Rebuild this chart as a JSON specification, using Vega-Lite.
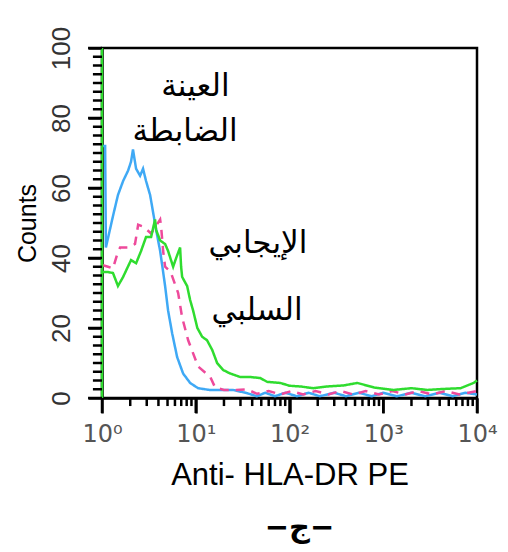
{
  "$schema": "https://vega.github.io/schema/vega-lite/v6.json",
  "width": 375,
  "height": 350,
  "autosize": "none",
  "padding": {"left": 102, "top": 48, "right": 31, "bottom": 154},
  "config": {"view": {"stroke": "black", "strokeWidth": 2.5}},
  "title": {"text": "−ج−", "orient": "bottom", "font": "DejaVu Sans", "fontSize": 29, "fontWeight": "bold", "color": "black", "offset": 24, "dx": 10},
  "datasets": {
    "curves": [
      {"s": "blue", "i": 0, "x": 1.0, "y": 72}, {"s": "blue", "i": 1, "x": 1.08, "y": 72}, {"s": "blue", "i": 2, "x": 1.1, "y": 43}, {"s": "blue", "i": 3, "x": 1.31, "y": 52}, {"s": "blue", "i": 4, "x": 1.48, "y": 58}, {"s": "blue", "i": 5, "x": 1.68, "y": 62}, {"s": "blue", "i": 6, "x": 1.9, "y": 65}, {"s": "blue", "i": 7, "x": 2.04, "y": 67.5}, {"s": "blue", "i": 8, "x": 2.14, "y": 71}, {"s": "blue", "i": 9, "x": 2.31, "y": 65.5}, {"s": "blue", "i": 10, "x": 2.55, "y": 63.5}, {"s": "blue", "i": 11, "x": 2.74, "y": 65.5}, {"s": "blue", "i": 12, "x": 2.95, "y": 62}, {"s": "blue", "i": 13, "x": 3.26, "y": 58}, {"s": "blue", "i": 14, "x": 3.51, "y": 53}, {"s": "blue", "i": 15, "x": 3.78, "y": 48}, {"s": "blue", "i": 16, "x": 4.17, "y": 42}, {"s": "blue", "i": 17, "x": 4.49, "y": 36}, {"s": "blue", "i": 18, "x": 4.71, "y": 32}, {"s": "blue", "i": 19, "x": 5.07, "y": 25}, {"s": "blue", "i": 20, "x": 5.6, "y": 18.5}, {"s": "blue", "i": 21, "x": 6.33, "y": 11.7}, {"s": "blue", "i": 22, "x": 7.33, "y": 7}, {"s": "blue", "i": 23, "x": 8.71, "y": 4.3}, {"s": "blue", "i": 24, "x": 10.6, "y": 2.8}, {"s": "blue", "i": 25, "x": 14, "y": 2.3}, {"s": "blue", "i": 26, "x": 19, "y": 2.3}, {"s": "blue", "i": 27, "x": 25, "y": 2.3}, {"s": "blue", "i": 28, "x": 35, "y": 1.4}, {"s": "blue", "i": 29, "x": 45, "y": 0.5}, {"s": "blue", "i": 30, "x": 55, "y": 1.5}, {"s": "blue", "i": 31, "x": 70, "y": 0.5}, {"s": "blue", "i": 32, "x": 90, "y": 1.5}, {"s": "blue", "i": 33, "x": 120, "y": 0.5}, {"s": "blue", "i": 34, "x": 160, "y": 1.5}, {"s": "blue", "i": 35, "x": 210, "y": 0.5}, {"s": "blue", "i": 36, "x": 300, "y": 1.5}, {"s": "blue", "i": 37, "x": 400, "y": 0.5}, {"s": "blue", "i": 38, "x": 550, "y": 1.5}, {"s": "blue", "i": 39, "x": 750, "y": 0.5}, {"s": "blue", "i": 40, "x": 1000, "y": 1.5}, {"s": "blue", "i": 41, "x": 1400, "y": 0.5}, {"s": "blue", "i": 42, "x": 2000, "y": 1.5}, {"s": "blue", "i": 43, "x": 2800, "y": 0.5}, {"s": "blue", "i": 44, "x": 4000, "y": 1.5}, {"s": "blue", "i": 45, "x": 5500, "y": 0.5}, {"s": "blue", "i": 46, "x": 7500, "y": 1.5}, {"s": "blue", "i": 47, "x": 10000, "y": 1},

      {"s": "pink", "i": 0, "x": 1.0, "y": 38}, {"s": "pink", "i": 1, "x": 1.16, "y": 37.5}, {"s": "pink", "i": 2, "x": 1.31, "y": 37}, {"s": "pink", "i": 3, "x": 1.45, "y": 41}, {"s": "pink", "i": 4, "x": 1.56, "y": 43}, {"s": "pink", "i": 5, "x": 1.9, "y": 43}, {"s": "pink", "i": 6, "x": 2.25, "y": 44}, {"s": "pink", "i": 7, "x": 2.43, "y": 49.5}, {"s": "pink", "i": 8, "x": 2.74, "y": 49}, {"s": "pink", "i": 9, "x": 3.34, "y": 47}, {"s": "pink", "i": 10, "x": 4.17, "y": 51}, {"s": "pink", "i": 11, "x": 4.27, "y": 49}, {"s": "pink", "i": 12, "x": 4.49, "y": 42}, {"s": "pink", "i": 13, "x": 4.71, "y": 37.5}, {"s": "pink", "i": 14, "x": 5.4, "y": 36}, {"s": "pink", "i": 15, "x": 6.49, "y": 30}, {"s": "pink", "i": 16, "x": 7.16, "y": 23}, {"s": "pink", "i": 17, "x": 8.3, "y": 16.5}, {"s": "pink", "i": 18, "x": 10.6, "y": 9}, {"s": "pink", "i": 19, "x": 14.3, "y": 6}, {"s": "pink", "i": 20, "x": 16.1, "y": 3}, {"s": "pink", "i": 21, "x": 20, "y": 2.3}, {"s": "pink", "i": 22, "x": 27, "y": 2.3}, {"s": "pink", "i": 23, "x": 35, "y": 2.5}, {"s": "pink", "i": 24, "x": 45, "y": 1.2}, {"s": "pink", "i": 25, "x": 60, "y": 2}, {"s": "pink", "i": 26, "x": 80, "y": 1}, {"s": "pink", "i": 27, "x": 105, "y": 2}, {"s": "pink", "i": 28, "x": 140, "y": 1}, {"s": "pink", "i": 29, "x": 190, "y": 2}, {"s": "pink", "i": 30, "x": 260, "y": 1}, {"s": "pink", "i": 31, "x": 350, "y": 2}, {"s": "pink", "i": 32, "x": 480, "y": 1}, {"s": "pink", "i": 33, "x": 650, "y": 2}, {"s": "pink", "i": 34, "x": 900, "y": 1}, {"s": "pink", "i": 35, "x": 1250, "y": 2}, {"s": "pink", "i": 36, "x": 1700, "y": 1}, {"s": "pink", "i": 37, "x": 2400, "y": 2}, {"s": "pink", "i": 38, "x": 3300, "y": 1}, {"s": "pink", "i": 39, "x": 4600, "y": 2}, {"s": "pink", "i": 40, "x": 6500, "y": 1}, {"s": "pink", "i": 41, "x": 10000, "y": 2},

      {"s": "green", "i": 0, "x": 1.0, "y": 0}, {"s": "green", "i": 1, "x": 1.0, "y": 100}, {"s": "green", "i": 2, "x": 1.0, "y": 36}, {"s": "green", "i": 3, "x": 1.08, "y": 36}, {"s": "green", "i": 4, "x": 1.16, "y": 36}, {"s": "green", "i": 5, "x": 1.31, "y": 35.7}, {"s": "green", "i": 6, "x": 1.48, "y": 32}, {"s": "green", "i": 7, "x": 1.68, "y": 34.6}, {"s": "green", "i": 8, "x": 2.04, "y": 39.4}, {"s": "green", "i": 9, "x": 2.31, "y": 38.5}, {"s": "green", "i": 10, "x": 2.61, "y": 42}, {"s": "green", "i": 11, "x": 2.95, "y": 46}, {"s": "green", "i": 12, "x": 3.34, "y": 46}, {"s": "green", "i": 13, "x": 3.68, "y": 51}, {"s": "green", "i": 14, "x": 3.78, "y": 48}, {"s": "green", "i": 15, "x": 4.17, "y": 45}, {"s": "green", "i": 16, "x": 4.71, "y": 44}, {"s": "green", "i": 17, "x": 5.07, "y": 42}, {"s": "green", "i": 18, "x": 5.74, "y": 37.5}, {"s": "green", "i": 19, "x": 6.18, "y": 40}, {"s": "green", "i": 20, "x": 6.81, "y": 43}, {"s": "green", "i": 21, "x": 6.98, "y": 37.5}, {"s": "green", "i": 22, "x": 7.16, "y": 34.6}, {"s": "green", "i": 23, "x": 8.09, "y": 32}, {"s": "green", "i": 24, "x": 8.71, "y": 28}, {"s": "green", "i": 25, "x": 9.37, "y": 25}, {"s": "green", "i": 26, "x": 10.4, "y": 20}, {"s": "green", "i": 27, "x": 11.7, "y": 17.5}, {"s": "green", "i": 28, "x": 13.2, "y": 16.5}, {"s": "green", "i": 29, "x": 15.0, "y": 13.7}, {"s": "green", "i": 30, "x": 16.9, "y": 10}, {"s": "green", "i": 31, "x": 19.6, "y": 8}, {"s": "green", "i": 32, "x": 23.3, "y": 7}, {"s": "green", "i": 33, "x": 29.8, "y": 6}, {"s": "green", "i": 34, "x": 38.1, "y": 6}, {"s": "green", "i": 35, "x": 48.8, "y": 5.7}, {"s": "green", "i": 36, "x": 57.9, "y": 4.6}, {"s": "green", "i": 37, "x": 79.8, "y": 4.3}, {"s": "green", "i": 38, "x": 100, "y": 3.5}, {"s": "green", "i": 39, "x": 130, "y": 3.3}, {"s": "green", "i": 40, "x": 180, "y": 2.8}, {"s": "green", "i": 41, "x": 254, "y": 3.3}, {"s": "green", "i": 42, "x": 380, "y": 3.6}, {"s": "green", "i": 43, "x": 530, "y": 4.3}, {"s": "green", "i": 44, "x": 800, "y": 3}, {"s": "green", "i": 45, "x": 1285, "y": 2.3}, {"s": "green", "i": 46, "x": 2000, "y": 2.8}, {"s": "green", "i": 47, "x": 2967, "y": 2.3}, {"s": "green", "i": 48, "x": 4500, "y": 2.6}, {"s": "green", "i": 49, "x": 6680, "y": 2.8}, {"s": "green", "i": 50, "x": 9200, "y": 4.3}, {"s": "green", "i": 51, "x": 10000, "y": 5}
    ],
    "labels": [
      {"t": "العينة", "x": 9.9, "y": 89},
      {"t": "الضابطة", "x": 7.7, "y": 76},
      {"t": "الإيجابي", "x": 46, "y": 44},
      {"t": "السلبي", "x": 45, "y": 25}
    ],
    "xticks": [
      {"v": 1, "k": "major"}, {"v": 2, "k": "minor"}, {"v": 3, "k": "minor"}, {"v": 4, "k": "minor"}, {"v": 5, "k": "minor"}, {"v": 6, "k": "minor"}, {"v": 7, "k": "minor"}, {"v": 8, "k": "minor"}, {"v": 9, "k": "minor"},
      {"v": 10, "k": "major"}, {"v": 20, "k": "minor"}, {"v": 30, "k": "minor"}, {"v": 40, "k": "minor"}, {"v": 50, "k": "minor"}, {"v": 60, "k": "minor"}, {"v": 70, "k": "minor"}, {"v": 80, "k": "minor"}, {"v": 90, "k": "minor"},
      {"v": 100, "k": "major"}, {"v": 200, "k": "minor"}, {"v": 300, "k": "minor"}, {"v": 400, "k": "minor"}, {"v": 500, "k": "minor"}, {"v": 600, "k": "minor"}, {"v": 700, "k": "minor"}, {"v": 800, "k": "minor"}, {"v": 900, "k": "minor"},
      {"v": 1000, "k": "major"}, {"v": 2000, "k": "minor"}, {"v": 3000, "k": "minor"}, {"v": 4000, "k": "minor"}, {"v": 5000, "k": "minor"}, {"v": 6000, "k": "minor"}, {"v": 7000, "k": "minor"}, {"v": 8000, "k": "minor"}, {"v": 9000, "k": "minor"},
      {"v": 10000, "k": "major"}
    ],
    "yticks": [
      {"v": 0, "k": "major"}, {"v": 2.5, "k": "minor"}, {"v": 5, "k": "minor"}, {"v": 7.5, "k": "minor"}, {"v": 10, "k": "minor"}, {"v": 12.5, "k": "minor"}, {"v": 15, "k": "minor"}, {"v": 17.5, "k": "minor"},
      {"v": 20, "k": "major"}, {"v": 22.5, "k": "minor"}, {"v": 25, "k": "minor"}, {"v": 27.5, "k": "minor"}, {"v": 30, "k": "minor"}, {"v": 32.5, "k": "minor"}, {"v": 35, "k": "minor"}, {"v": 37.5, "k": "minor"},
      {"v": 40, "k": "major"}, {"v": 42.5, "k": "minor"}, {"v": 45, "k": "minor"}, {"v": 47.5, "k": "minor"}, {"v": 50, "k": "minor"}, {"v": 52.5, "k": "minor"}, {"v": 55, "k": "minor"}, {"v": 57.5, "k": "minor"},
      {"v": 60, "k": "major"}, {"v": 62.5, "k": "minor"}, {"v": 65, "k": "minor"}, {"v": 67.5, "k": "minor"}, {"v": 70, "k": "minor"}, {"v": 72.5, "k": "minor"}, {"v": 75, "k": "minor"}, {"v": 77.5, "k": "minor"},
      {"v": 80, "k": "major"}, {"v": 82.5, "k": "minor"}, {"v": 85, "k": "minor"}, {"v": 87.5, "k": "minor"}, {"v": 90, "k": "minor"}, {"v": 92.5, "k": "minor"}, {"v": 95, "k": "minor"}, {"v": 97.5, "k": "minor"},
      {"v": 100, "k": "major"}
    ]
  },
  "layer": [
    {
      "data": {"name": "curves"},
      "mark": {"type": "line", "strokeWidth": 2.5},
      "encoding": {
        "x": {
          "field": "x", "type": "quantitative",
          "scale": {"type": "log", "domain": [1, 10000], "nice": false},
          "axis": {
            "title": "Anti- HLA-DR PE",
            "titleFont": "Liberation Sans", "titleFontSize": 31, "titleFontWeight": "normal", "titleColor": "black", "titlePadding": 14,
            "values": [1, 10, 100, 1000, 10000],
            "labelExpr": "datum.value == 1 ? '10⁰' : datum.value == 10 ? '10¹' : datum.value == 100 ? '10²' : datum.value == 1000 ? '10³' : '10⁴'",
            "labelFont": "DejaVu Sans", "labelFontSize": 24, "labelColor": "#555555", "labelPadding": 9,
            "labelOverlap": false, "labelFlush": false,
            "domainColor": "black", "domainWidth": 2.5,
            "tickColor": "black", "tickWidth": 2.5, "tickSize": 15,
            "grid": false
          }
        },
        "y": {
          "field": "y", "type": "quantitative",
          "scale": {"domain": [0, 100], "nice": false},
          "axis": {
            "title": "Counts",
            "titleFont": "Liberation Sans", "titleFontSize": 25, "titleFontWeight": "normal", "titleColor": "black", "titlePadding": 8,
            "values": [0, 20, 40, 60, 80, 100],
            "labelAngle": -90, "labelAlign": "center", "labelBaseline": "bottom",
            "labelFont": "Liberation Sans", "labelFontSize": 26, "labelColor": "#333333", "labelPadding": 14,
            "labelOverlap": false, "labelFlush": false,
            "domainColor": "black", "domainWidth": 2.5,
            "tickColor": "black", "tickWidth": 2.5, "tickSize": 14,
            "grid": false
          }
        },
        "color": {
          "field": "s", "type": "nominal",
          "scale": {"domain": ["blue", "pink", "green"], "range": ["#3fa9f5", "#ee4a9b", "#2fdc2f"]},
          "legend": null
        },
        "strokeDash": {
          "field": "s", "type": "nominal",
          "scale": {"domain": ["blue", "pink", "green"], "range": [[1, 0], [9, 7], [1, 0]]},
          "legend": null
        },
        "order": {"field": "i", "type": "quantitative"}
      }
    },
    {
      "data": {"name": "xticks"},
      "transform": [{"filter": "datum.k == 'major'"}],
      "mark": {"type": "rule", "color": "black", "strokeWidth": 2.5},
      "encoding": {
        "x": {"field": "v", "type": "quantitative"},
        "y": {"datum": 0, "type": "quantitative"},
        "y2": {"datum": -4.3}
      }
    },
    {
      "data": {"name": "xticks"},
      "transform": [{"filter": "datum.k == 'minor'"}],
      "mark": {"type": "rule", "color": "black", "strokeWidth": 2.5},
      "encoding": {
        "x": {"field": "v", "type": "quantitative"},
        "y": {"datum": 0, "type": "quantitative"},
        "y2": {"datum": -2.3}
      }
    },
    {
      "data": {"name": "yticks"},
      "transform": [{"filter": "datum.k == 'major'"}],
      "mark": {"type": "rule", "color": "black", "strokeWidth": 2.5},
      "encoding": {
        "y": {"field": "v", "type": "quantitative"},
        "x": {"datum": 1, "type": "quantitative"},
        "x2": {"datum": 0.71}
      }
    },
    {
      "data": {"name": "yticks"},
      "transform": [{"filter": "datum.k == 'minor'"}],
      "mark": {"type": "rule", "color": "black", "strokeWidth": 2.5},
      "encoding": {
        "y": {"field": "v", "type": "quantitative"},
        "x": {"datum": 1, "type": "quantitative"},
        "x2": {"datum": 0.8}
      }
    },
    {
      "data": {"name": "labels"},
      "mark": {"type": "text", "font": "DejaVu Sans", "fontSize": 31, "color": "black", "align": "center", "baseline": "middle"},
      "encoding": {
        "x": {"field": "x", "type": "quantitative"},
        "y": {"field": "y", "type": "quantitative"},
        "text": {"field": "t"}
      }
    }
  ]
}
